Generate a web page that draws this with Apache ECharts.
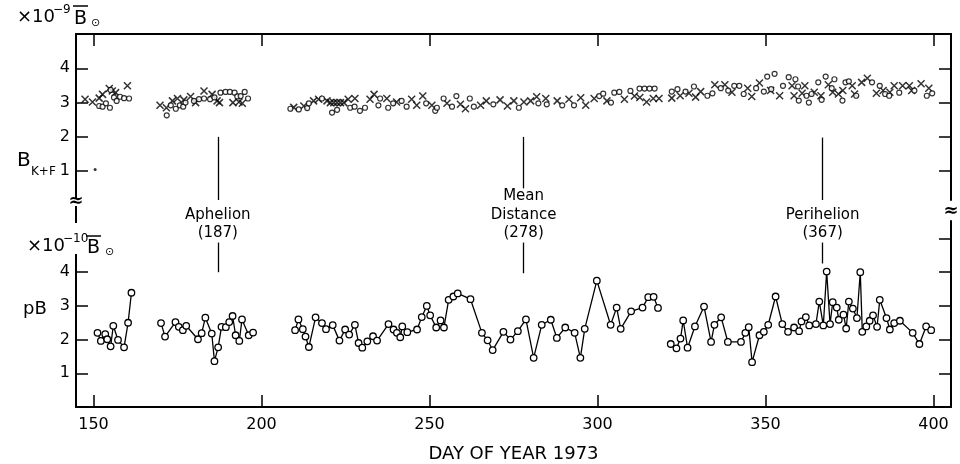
<!DOCTYPE html>
<html><head><meta charset="utf-8">
<script src="https://cdn.jsdelivr.net/npm/echarts@6/dist/echarts.min.js"></script>
<style>html,body{margin:0;padding:0;background:#fff}#c{width:960px;height:464px}</style>
</head><body><div id="c"></div>
<script>
// ---------- data ----------
const dayTicks = [150, 200, 250, 300, 350, 400];
const bkfTicks = [1, 2, 3, 4];
const pbTicks = [1, 2, 3, 4];
const pbRightTicks = [1, 2, 3, 4, 5];

// B_K+F (x10^-9 B_sun) : crosses
const bkfCrossDay = [147.5,149.7,151.7,152.7,154.7,155.6,156.6,160.1,
 169.8,171.7,173.5,175.0,176.9,178.9,180.4,182.9,185.3,186.8,187.5,191.5,193.3,194.3,
 209.6,212.6,215.5,217.0,219.5,220.5,221.5,222.5,223.5,224.5,225.8,227.8,232.3,233.5,237.3,240.2,244.7,246.2,248.0,250.7,255.2,259.2,260.7,265.2,266.9,271.0,273.2,275.1,278.1,280.1,281.9,284.6,288.0,291.5,295.0,296.5,299.0,302.8,308.0,311.0,312.6,314.6,316.6,318.3,
 322.1,324.6,327.2,329.2,330.7,334.9,337.9,340.0,344.7,345.9,348.2,351.5,354.2,357.9,358.5,360.9,361.7,364.5,366.5,368.7,370.0,371.7,373.0,375.8,376.5,378.6,380.3,383.0,385.0,387.0,388.3,390.8,392.8,393.5,396.3,398.6];
const bkfCrossVal = [3.10,3.02,3.13,3.24,3.41,3.34,3.29,3.49,
 2.92,2.85,3.05,3.12,3.08,3.18,3.00,3.34,3.24,3.05,3.00,3.00,3.02,2.98,
 2.86,2.90,3.05,3.10,3.05,3.00,3.00,3.00,3.00,3.00,3.10,3.12,3.10,3.24,3.12,3.02,3.10,2.92,3.19,2.92,2.98,2.95,2.82,2.92,3.05,3.08,2.90,3.05,3.02,3.05,3.17,3.12,3.05,3.10,3.14,2.92,3.12,3.05,3.10,3.19,3.15,3.02,3.12,3.12,
 3.13,3.20,3.27,3.16,3.32,3.52,3.52,3.30,3.42,3.18,3.57,3.35,3.20,3.49,3.20,3.27,3.49,3.30,3.20,3.52,3.30,3.25,3.35,3.49,3.25,3.59,3.71,3.27,3.35,3.30,3.49,3.49,3.49,3.35,3.55,3.42];
// circles
const bkfCircleDay = [151.7,152.7,153.7,154.9,155.1,156.1,156.9,157.9,159.1,160.6,
 171.8,173.0,174.5,175.7,176.7,177.4,179.9,181.4,182.9,184.7,186.0,187.8,189.3,190.6,192.0,192.8,193.8,195.0,196.0,
 208.6,211.1,213.6,214.1,218.0,221.0,222.5,226.4,227.7,229.3,230.8,234.8,235.3,237.7,239.2,241.7,243.2,249.0,251.7,252.2,254.2,256.7,258.0,262.0,263.2,269.0,276.6,282.4,284.9,289.5,293.0,300.5,301.7,304.0,305.0,306.5,309.8,312.5,314.0,315.5,317.0,
 322.1,323.8,326.2,328.7,332.7,334.2,336.7,338.9,340.7,342.2,343.5,347.2,349.5,350.5,351.7,352.7,355.2,356.9,358.9,359.7,359.9,362.2,362.9,363.7,365.7,366.7,367.9,369.7,370.5,372.9,373.8,374.8,377.0,381.7,384.0,385.6,386.8,389.8,394.3,398.0,399.6];
const bkfCircleVal = [2.90,2.88,2.98,2.85,3.37,3.15,3.05,3.17,3.13,3.12,
 2.63,2.92,2.82,2.92,2.88,3.00,3.05,3.10,3.12,3.10,3.15,3.29,3.31,3.31,3.29,3.18,3.19,3.31,3.12,
 2.82,2.80,2.84,2.98,3.12,2.71,2.79,2.85,2.88,2.76,2.85,2.92,3.12,2.85,2.98,3.05,2.88,2.98,2.76,2.85,3.12,2.88,3.19,3.12,2.88,2.95,2.85,2.98,2.95,2.92,2.92,3.19,3.26,3.00,3.29,3.31,3.34,3.41,3.41,3.41,3.41,
 3.32,3.39,3.32,3.47,3.20,3.27,3.42,3.35,3.49,3.49,3.25,3.42,3.32,3.76,3.39,3.84,3.49,3.74,3.68,3.47,3.06,3.20,3.00,3.25,3.59,3.08,3.76,3.42,3.68,3.06,3.59,3.62,3.20,3.59,3.49,3.25,3.20,3.29,3.35,3.20,3.27];
// isolated dot
const bkfDotDay = [150.5];
const bkfDotVal = [1.05];

// pB (x10^-10 B_sun), null = data gap
const pbDay = [151.2,152.2,153.5,154.1,155.1,155.9,157.3,159.1,160.3,161.3,null,
 170.1,171.3,174.4,175.4,176.6,177.6,181.1,182.2,183.3,185.2,186.0,187.1,188.1,189.4,190.4,191.4,192.3,193.4,194.2,196.2,197.5,null,
 210.0,211.0,212.3,213.1,214.1,216.1,218.0,219.2,221.2,223.2,224.9,226.1,227.8,228.9,230.0,231.5,233.2,234.4,237.8,239.3,240.3,241.3,241.9,243.4,246.3,247.7,249.2,250.2,252.0,253.3,254.3,255.7,257.1,258.4,262.2,265.6,267.3,268.8,272.0,274.1,276.3,278.7,281.0,283.4,286.1,287.9,290.4,293.2,294.9,296.2,299.8,303.9,305.7,306.9,310.0,313.4,315.1,316.7,318.0,null,
 321.8,323.5,324.7,325.5,326.8,329.0,331.7,333.8,334.8,336.8,338.8,342.7,344.0,345.0,346.0,348.2,349.5,350.8,353.0,355.0,356.7,358.5,360.0,360.7,362.0,363.0,365.0,366.0,367.2,368.2,369.2,370.0,371.2,371.8,373.2,374.0,374.8,376.0,377.2,378.2,378.8,380.0,381.0,382.0,383.2,384.0,386.0,387.0,388.3,390.0,393.8,395.8,397.8,399.3];
const pbVal = [2.20,1.96,2.16,2.01,1.80,2.41,1.99,1.77,2.50,3.39,null,
 2.49,2.09,2.52,2.38,2.28,2.41,2.01,2.19,2.65,2.18,1.36,1.77,2.38,2.37,2.52,2.70,2.13,1.96,2.60,2.13,2.21,null,
 2.28,2.60,2.31,2.09,1.78,2.66,2.49,2.31,2.43,1.97,2.30,2.15,2.44,1.90,1.76,1.95,2.10,1.97,2.46,2.30,2.20,2.07,2.39,2.22,2.30,2.67,3.00,2.72,2.36,2.57,2.36,3.18,3.28,3.37,3.20,2.20,1.98,1.69,2.23,2.00,2.25,2.60,1.46,2.44,2.59,2.05,2.36,2.20,1.46,2.32,3.75,2.44,2.95,2.32,2.84,2.95,3.26,3.27,2.94,null,
 1.87,1.74,2.03,2.57,1.76,2.39,2.98,1.93,2.44,2.66,1.93,1.93,2.20,2.37,1.33,2.13,2.23,2.44,3.28,2.46,2.23,2.36,2.25,2.54,2.67,2.42,2.46,3.13,2.42,4.02,2.46,3.11,2.95,2.59,2.74,2.33,3.13,2.92,2.64,4.00,2.23,2.39,2.56,2.72,2.38,3.18,2.64,2.30,2.49,2.56,2.20,1.87,2.39,2.28];

// orbital markers
const eventDays = [187, 278, 367];
const eventNames = ['Aphelion\n(187)', 'Mean\nDistance\n(278)', 'Perihelion\n(367)'];
const eventTopFrom = [2.0, 2.0, 1.98];   // B_K+F panel: line from this value downward
const eventTopTo = [0.16, 0.5, 0.16];
const eventBotFrom = [4.0, 3.97, 4.26];  // pB panel: line from this value upward
const eventBotTo = [4.88, 4.88, 4.88];

// ---------- chart ----------
const FONT = '"DejaVu Sans", sans-serif';
const chart = echarts.init(document.getElementById('c'), null, {renderer: 'canvas'});
const xRange = {min: 144.8, max: 405.2};
const axLine = {show: true, lineStyle: {color: '#000', width: 2}};
const tickStyle = {color: '#000', width: 1.5};

function xAx(grid, pos, labels) {
  return {
    type: 'value', gridIndex: grid, position: pos, min: xRange.min, max: xRange.max,
    axisLine: axLine,
    axisTick: {show: true, inside: true, length: 12, lineStyle: tickStyle, customValues: dayTicks},
    axisLabel: labels ? {show: true, customValues: dayTicks, color: '#000', fontSize: 16, fontFamily: FONT, margin: 10} : {show: false},
    splitLine: {show: false},
    name: labels ? 'DAY OF YEAR 1973' : '',
    nameLocation: 'middle', nameGap: 38,
    nameTextStyle: {color: '#000', fontSize: 18, fontFamily: FONT}
  };
}
function yAx(grid, pos, min, max, ticks, labels, lineOn) {
  return {
    type: 'value', gridIndex: grid, position: pos, min: min, max: max,
    axisLine: lineOn ? axLine : {show: false},
    axisTick: {show: true, inside: true, length: 12, lineStyle: tickStyle, customValues: ticks},
    axisLabel: labels ? {show: true, customValues: ticks, color: '#000', fontSize: 16, fontFamily: FONT, margin: 6} : {show: false},
    splitLine: {show: false}
  };
}

const crossPath = 'path://M0,0L10,10M10,0L0,10';
const zip = (a, b) => a.map((d, i) => [d, b[i]]);

const option = {
  animation: false,
  backgroundColor: '#fff',
  grid: [
    {left: 76, right: 9, top: 34, height: 166},
    {left: 76, right: 9, top: 221, height: 188}
  ],
  xAxis: [
    xAx(0, 'top', false),
    xAx(1, 'bottom', true)
  ],
  yAxis: [
    yAx(0, 'left', 0.16, 5, bkfTicks, true, true),
    yAx(0, 'right', 0.16, 5, bkfTicks, false, true),
    yAx(1, 'left', 0, 5.52, pbTicks, true, true),
    yAx(1, 'right', 0, 5.52, pbRightTicks, false, true)
  ],
  series: [
    {
      type: 'scatter', xAxisIndex: 0, yAxisIndex: 0,
      data: zip(bkfCrossDay, bkfCrossVal),
      symbol: crossPath, symbolSize: 7,
      itemStyle: {color: 'rgba(0,0,0,0)', borderColor: '#000', borderWidth: 1.5},
      markLine: {
        silent: true, symbol: ['none', 'none'], animation: false,
        lineStyle: {color: '#000', width: 1.3, type: 'solid'},
        label: {show: false},
        data: eventDays.map((d, i) => [{coord: [d, eventTopFrom[i]]}, {coord: [d, eventTopTo[i]]}])
      }
    },
    {
      type: 'scatter', xAxisIndex: 0, yAxisIndex: 0,
      data: zip(bkfCircleDay, bkfCircleVal),
      symbol: 'circle', symbolSize: 5,
      itemStyle: {color: '#fff', borderColor: '#000', borderWidth: 1.2}
    },
    {
      type: 'scatter', xAxisIndex: 0, yAxisIndex: 0,
      data: zip(bkfDotDay, bkfDotVal),
      symbol: 'circle', symbolSize: 3,
      itemStyle: {color: '#000'}
    },
    {
      type: 'line', xAxisIndex: 1, yAxisIndex: 2,
      data: zip(pbDay, pbVal),
      connectNulls: false, showAllSymbol: true,
      symbol: 'circle', symbolSize: 6.5,
      lineStyle: {color: '#000', width: 1.3},
      itemStyle: {color: '#fff', borderColor: '#000', borderWidth: 1.3},
      markLine: {
        silent: true, symbol: ['none', 'none'], animation: false,
        lineStyle: {color: '#000', width: 1.3, type: 'solid'},
        label: {show: true, position: 'end', formatter: '{b}', color: '#000', fontSize: 15,
                fontFamily: FONT, lineHeight: 18.5, distance: 0, align: 'center'},
        data: eventDays.map((d, i) => [{coord: [d, eventBotFrom[i]], name: eventNames[i]}, {coord: [d, eventBotTo[i]]}])
      }
    }
  ],
  graphic: [
    // top panel unit label: x10^-9 B(sun)
    {type: 'text', z: 100, left: 17, top: 8, style: {text: '×10', fill: '#000', font: '18px ' + FONT}},
    {type: 'text', z: 100, left: 53, top: 4, style: {text: '−9', fill: '#000', font: '12px ' + FONT}},
    {type: 'text', z: 100, left: 74, top: 10, style: {text: 'B', fill: '#000', font: '19px ' + FONT}},
    {type: 'line', z: 100, shape: {x1: 73, y1: 6, x2: 88, y2: 6}, style: {stroke: '#000', lineWidth: 1.5}},
    {type: 'text', z: 100, left: 91, top: 18, style: {text: '⊙', fill: '#000', font: '11px ' + FONT}},
    // B_K+F
    {type: 'text', z: 100, left: 17, top: 151, style: {text: 'B', fill: '#000', font: '20px ' + FONT}},
    {type: 'text', z: 100, left: 31, top: 166, style: {text: 'K+F', fill: '#000', font: '12px ' + FONT}},
    // bottom panel unit label
    {type: 'rect', z: 99, shape: {x: 60, y: 223, width: 30, height: 31}, style: {fill: '#fff'}},
    {type: 'text', z: 100, left: 27, top: 237, style: {text: '×10', fill: '#000', font: '18px ' + FONT}},
    {type: 'text', z: 100, left: 63, top: 233, style: {text: '−10', fill: '#000', font: '12px ' + FONT}},
    {type: 'text', z: 100, left: 87, top: 239, style: {text: 'B', fill: '#000', font: '19px ' + FONT}},
    {type: 'line', z: 100, shape: {x1: 86, y1: 236, x2: 101, y2: 236}, style: {stroke: '#000', lineWidth: 1.5}},
    {type: 'text', z: 100, left: 105, top: 247, style: {text: '⊙', fill: '#000', font: '11px ' + FONT}},
    // pB
    {type: 'text', z: 100, left: 23, top: 300, style: {text: 'pB', fill: '#000', font: '18px ' + FONT}},
    // axis breaks
    {type: 'rect', z: 99, shape: {x: 70, y: 199, width: 12, height: 8}, style: {fill: '#fff'}},
    {type: 'text', z: 100, x: 76, y: 201, style: {text: '≈', fill: '#000', font: 'bold 18px ' + FONT, align: 'center', verticalAlign: 'middle'}},
    {type: 'line', z: 100, shape: {x1: 76, y1: 206, x2: 76, y2: 221}, style: {stroke: '#000', lineWidth: 2}},
    {type: 'text', z: 100, x: 951, y: 211, style: {text: '≈', fill: '#000', font: 'bold 18px ' + FONT, align: 'center', verticalAlign: 'middle'}}
  ]
};
chart.setOption(option);
</script>
</body></html>
